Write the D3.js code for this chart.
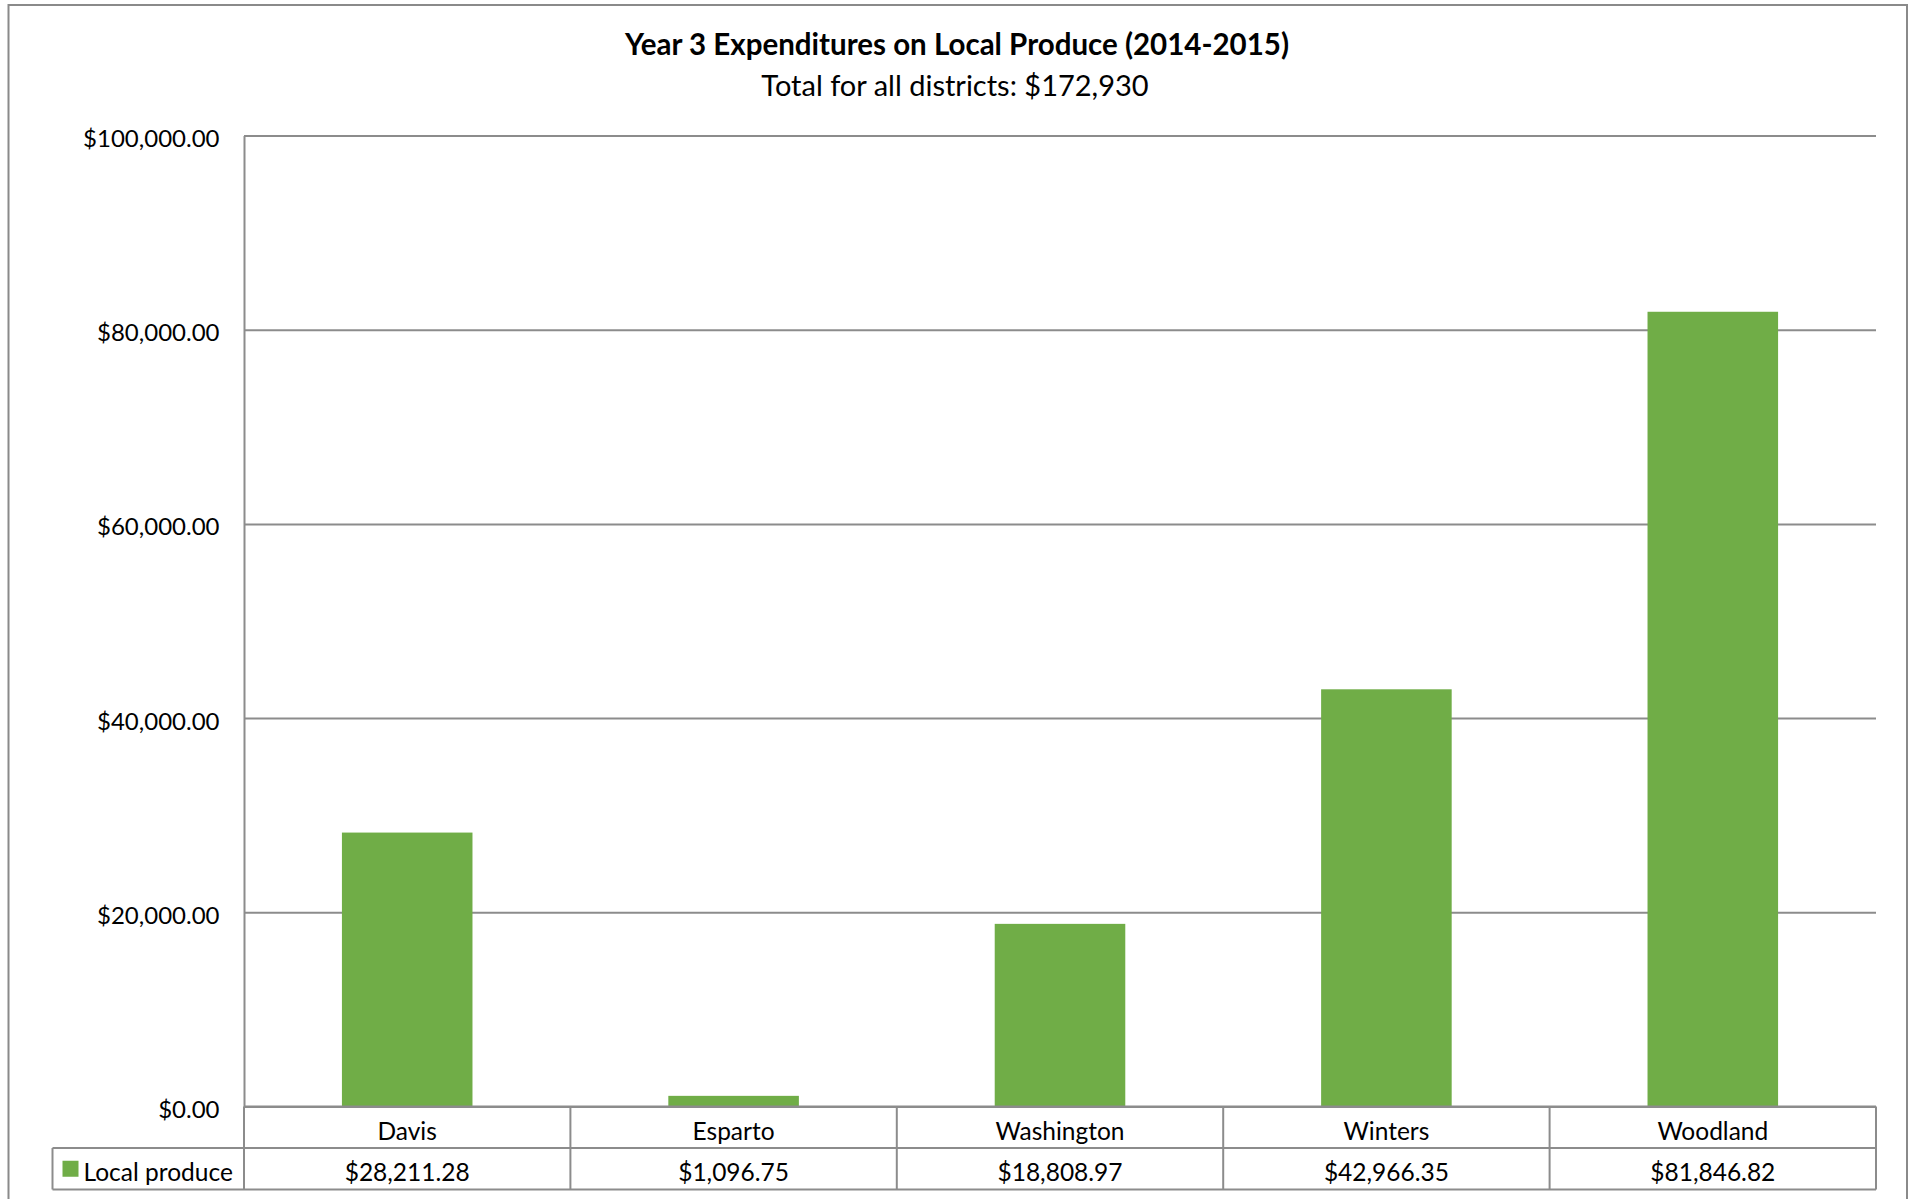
<!DOCTYPE html>
<html>
<head>
<meta charset="utf-8">
<script src="https://cdn.jsdelivr.net/npm/d3@7"></script>
<style>
  html, body { margin: 0; padding: 0; background: #ffffff; }
  svg { display: block; font-family: Lato, "Open Sans", sans-serif; }
</style>
</head>
<body>
<svg id="chart" width="1913" height="1199"></svg>
<script>
// Local produce spending by district, 2014-2015 school year
const districts = ["Davis", "Esparto", "Washington", "Winters", "Woodland"];
const localProduce = [28211.28, 1096.75, 18808.97, 42966.35, 81846.82];
const yTicks = [0, 20000, 40000, 60000, 80000, 100000];
const seriesName = "Local produce";
const titleText = "Year 3 Expenditures on Local Produce (2014-2015)";
const subtitleText = "Total for all districts: $172,930";

const W = 1913, H = 1199;
const plot = { left: 244, right: 1876, top: 135.5, bottom: 1106.5 };
const rowH = 41.5;
const legendLeft = 52.5;
const green = "#70AD47";
const lineGray = "#8c8c8c";
const axisFont = 24;
const tableFont = 24.5;

const svg = d3.select("#chart");

// outer chart frame
svg.append("rect")
  .attr("x", 8.5).attr("y", 5)
  .attr("width", 1907 - 8.5).attr("height", H + 10)
  .attr("fill", "#fff").attr("stroke", "#8a8a8a").attr("stroke-width", 2);

// title block
svg.append("text")
  .attr("x", 957).attr("y", 55)
  .attr("text-anchor", "middle")
  .attr("font-weight", "bold").attr("font-size", 29.5)
  .attr("fill", "#000")
  .text(titleText);
svg.append("text")
  .attr("x", 955).attr("y", 96)
  .attr("text-anchor", "middle")
  .attr("font-size", 29)
  .attr("fill", "#000")
  .text(subtitleText);

// scales
const x = d3.scaleBand()
  .domain(districts)
  .range([plot.left, plot.right])
  .paddingInner(0.6).paddingOuter(0.3);
const col = d3.scaleBand()
  .domain(districts)
  .range([plot.left, plot.right])
  .padding(0);
const y = d3.scaleLinear()
  .domain([0, 100000])
  .range([plot.bottom, plot.top]);

// gridlines and value labels
const yAxis = svg.append("g")
  .attr("transform", `translate(${plot.left},0)`)
  .call(d3.axisLeft(y)
    .tickValues(yTicks)
    .tickSize(-(plot.right - plot.left))
    .tickSizeOuter(0)
    .tickPadding(24.5)
    .tickFormat(d3.format("$,.2f")));
yAxis.select(".domain").attr("stroke", lineGray).attr("stroke-width", 2);
yAxis.selectAll(".tick line").attr("stroke", lineGray).attr("stroke-width", 2);
yAxis.selectAll(".tick text")
  .attr("font-size", axisFont)
  .attr("font-family", "Lato, sans-serif")
  .attr("fill", "#000")
  .attr("dy", "0.46em");

// bars
svg.append("g").selectAll("rect")
  .data(districts)
  .join("rect")
  .attr("x", d => x(d))
  .attr("width", x.bandwidth())
  .attr("y", (d, i) => y(localProduce[i]))
  .attr("height", (d, i) => y(0) - y(localProduce[i]))
  .attr("fill", green);

// data table beneath the plot
const table = svg.append("g")
  .attr("stroke", lineGray).attr("stroke-width", 2).attr("fill", "none");
const rowTop = plot.bottom, rowMid = plot.bottom + rowH, rowBot = plot.bottom + 2 * rowH;
table.append("line").attr("x1", plot.left).attr("x2", plot.right).attr("y1", rowTop).attr("y2", rowTop);
table.append("line").attr("x1", legendLeft).attr("x2", plot.right).attr("y1", rowMid).attr("y2", rowMid);
table.append("line").attr("x1", legendLeft).attr("x2", plot.right).attr("y1", rowBot).attr("y2", rowBot);
table.append("line").attr("x1", legendLeft).attr("x2", legendLeft).attr("y1", rowMid).attr("y2", rowBot);
table.selectAll(".col")
  .data(districts.map(d => col(d)).concat([plot.right]))
  .join("line")
  .attr("x1", d => d).attr("x2", d => d)
  .attr("y1", rowTop).attr("y2", rowBot);

const money = d3.format("$,.2f");
svg.append("g").selectAll("text")
  .data(districts)
  .join("text")
  .attr("x", d => col(d) + col.bandwidth() / 2)
  .attr("y", rowTop + rowH / 2)
  .attr("dy", "0.5em")
  .attr("text-anchor", "middle")
  .attr("font-size", tableFont)
  .attr("fill", "#000")
  .text(d => d);
svg.append("g").selectAll("text")
  .data(districts)
  .join("text")
  .attr("x", d => col(d) + col.bandwidth() / 2)
  .attr("y", rowMid + rowH / 2)
  .attr("dy", "0.5em")
  .attr("text-anchor", "middle")
  .attr("font-size", tableFont)
  .attr("fill", "#000")
  .text((d, i) => money(localProduce[i]));

// legend key in the table's first column
svg.append("rect")
  .attr("x", legendLeft + 10).attr("y", rowMid + rowH / 2 - 8)
  .attr("width", 16).attr("height", 16)
  .attr("fill", green);
svg.append("text")
  .attr("x", legendLeft + 31).attr("y", rowMid + rowH / 2)
  .attr("dy", "0.5em")
  .attr("font-size", tableFont)
  .attr("fill", "#000")
  .text(seriesName);
</script>
</body>
</html>
